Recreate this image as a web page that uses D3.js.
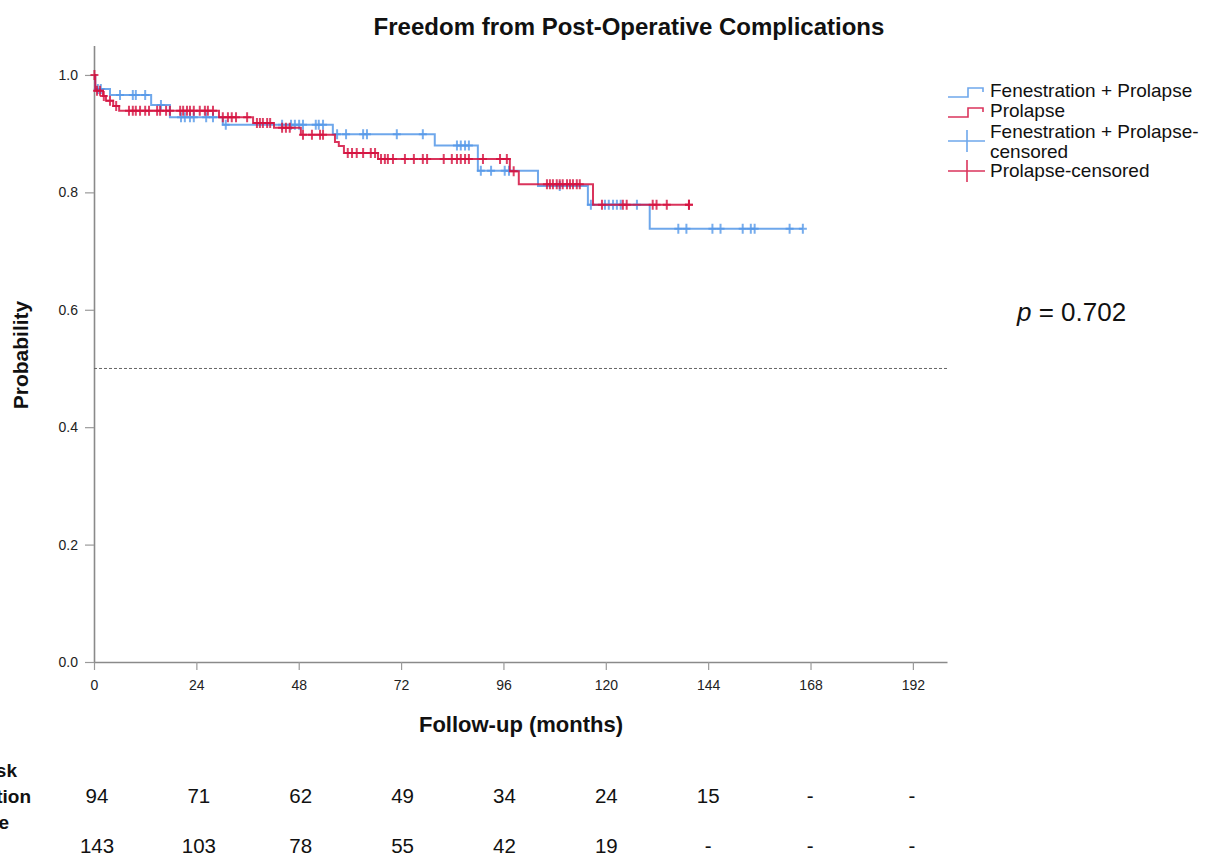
<!DOCTYPE html>
<html>
<head>
<meta charset="utf-8">
<script src="https://cdn.jsdelivr.net/npm/d3@7"></script>
<style>
  body { margin: 0; background: #fff; }
  svg { font-family: "Liberation Sans", Arial, sans-serif; }
</style>
</head>
<body>
<div id="chart"></div>
<script>
const width = 1213;
const height = 858;

// step points [month, survival]
const fenSteps = [[0, 1.0], [0.3, 0.976], [3.75, 0.966], [13.4, 0.949], [17.8, 0.928], [30.2, 0.915],
    [56.0, 0.899], [79.9, 0.880], [90.0, 0.837], [104.1, 0.811], [115.8, 0.779], [130.3, 0.738]];
const fenEnd = 166.2;
const fenCensored = [0.9, 1.6, 6.1, 9.1, 9.8, 12.0, 15.7, 20.4, 21.3, 22.5, 23.4, 26.3, 27.9,
    30.9, 44.1, 46.2, 47.1, 48.1, 49.0, 52.0, 52.7, 53.7, 57.0, 59.1, 63.1, 64.0, 71.0, 77.1,
    85.1, 86.0, 87.0, 87.9, 90.7, 93.1, 96.3, 97.3, 109.2, 116.5, 119.8, 120.7, 121.7, 122.6,
    123.5, 127.3, 137.0, 138.9, 145.0, 146.9, 152.1, 154.0, 154.9, 163.1, 166.2];

const proSteps = [[0, 1.0], [0.3, 0.973], [2.1, 0.964], [2.8, 0.956], [4.5, 0.947], [5.9, 0.939],
    [29.3, 0.928], [37.3, 0.918], [42.2, 0.910], [48.5, 0.898], [56.5, 0.886], [57.4, 0.879],
    [58.6, 0.867], [66.6, 0.857], [97.5, 0.836], [99.6, 0.814], [117.0, 0.779]];
const proEnd = 139.5;
const proCensored = [0.1, 0.7, 1.4, 2.3, 3.75, 5.2, 8.2, 9.1, 9.8, 10.8, 12.0, 12.9, 14.8, 15.5,
    16.9, 17.8, 20.2, 20.9, 21.8, 22.5, 23.4, 24.8, 26.0, 26.7, 27.9, 30.2, 31.4, 32.3, 33.3,
    35.9, 38.2, 38.9, 39.6, 40.6, 41.3, 44.1, 45.0, 45.9, 49.0, 51.1, 53.0, 53.7, 59.5, 60.5,
    61.6, 63.1, 64.9, 65.9, 67.3, 68.2, 68.9, 70.1, 72.9, 75.0, 77.1, 78.1, 82.0, 83.9, 85.1,
    86.0, 87.0, 87.9, 91.2, 95.2, 96.8, 98.4, 106.2, 106.9, 107.6, 108.5, 109.2, 109.9, 110.9,
    111.6, 112.3, 113.2, 113.9, 119.1, 124.0, 124.9, 131.0, 131.9, 134.3, 139.5, 139.5];

const xTicks = [0, 24, 48, 72, 96, 120, 144, 168, 192];
const yTicks = [0, 0.2, 0.4, 0.6, 0.8, 1.0];
const riskFen = ['94', '71', '62', '49', '34', '24', '15', '-', '-'];
const riskPro = ['143', '103', '78', '55', '42', '19', '-', '-', '-'];
const legendLabels = ['Fenestration + Prolapse', 'Prolapse', 'Fenestration + Prolapse-censored', 'Prolapse-censored'];

const blue = '#5598e8';
const red = '#d4103f';

const svg = d3.select('#chart')
    .append('svg')
    .attr('width', width)
    .attr('height', height);

const xScale = d3.scaleLinear().domain([0, 200]).range([94, 947]);
const yScale = d3.scaleLinear().domain([0, 1.05]).range([662, 45.6]);

// axes
const xAxis = d3.axisBottom(xScale).tickValues(xTicks).tickSize(8).tickSizeOuter(0);
const yAxis = d3.axisLeft(yScale).tickValues(yTicks).tickFormat(d3.format('.1f')).tickSize(9).tickSizeOuter(0);

const gx = svg.append('g')
    .attr('transform', `translate(0, ${yScale(0)})`)
    .call(xAxis);
const gy = svg.append('g')
    .attr('transform', `translate(${xScale(0)}, 0)`)
    .call(yAxis);

[gx, gy].forEach(g => {
    g.select('.domain').attr('stroke', '#8a8a8a').attr('stroke-width', 1.6);
    g.selectAll('.tick line').attr('stroke', '#9a9a9a').attr('stroke-width', 1.2);
    g.selectAll('.tick text').attr('fill', '#222').style('font-size', '14px')
        .style('font-family', '"Liberation Sans", Arial, sans-serif');
});
gx.selectAll('.tick text').attr('dy', '1.2em');
gy.selectAll('.tick text').attr('x', -16);

// median reference line
svg.append('line')
    .attr('x1', xScale(0))
    .attr('x2', xScale(200))
    .attr('y1', yScale(0.5))
    .attr('y2', yScale(0.5))
    .attr('stroke', '#666')
    .attr('stroke-width', 1)
    .attr('stroke-dasharray', '3,2');

const line = d3.line()
    .x(d => xScale(d[0]))
    .y(d => yScale(d[1]))
    .curve(d3.curveStepAfter);

function survAt(steps, t) {
    let s = 1;
    steps.forEach(d => { if (d[0] <= t) s = d[1]; });
    return s;
}

function drawGroup(steps, end, censored, color) {
    const pts = steps.concat([[end, steps[steps.length - 1][1]]]);
    svg.append('path')
        .datum(pts)
        .attr('d', line)
        .attr('fill', 'none')
        .attr('stroke', color)
        .attr('stroke-opacity', 0.85)
        .attr('stroke-width', 2);

    svg.append('g')
        .selectAll('path')
        .data(censored)
        .join('path')
        .attr('d', t => {
            const x = xScale(t), y = yScale(survAt(steps, t));
            return `M${x - 4},${y}H${x + 4}M${x},${y - 5}V${y + 5}`;
        })
        .attr('fill', 'none')
        .attr('stroke', color)
        .attr('stroke-opacity', 0.8)
        .attr('stroke-width', 2);
}

drawGroup(fenSteps, fenEnd, fenCensored, blue);
drawGroup(proSteps, proEnd, proCensored, red);

// title and axis labels
svg.append('text')
    .attr('x', 629)
    .attr('y', 35)
    .attr('text-anchor', 'middle')
    .style('font-size', '24px')
    .style('font-weight', 'bold')
    .attr('fill', '#111')
    .text('Freedom from Post-Operative Complications');

svg.append('text')
    .attr('x', 521)
    .attr('y', 732)
    .attr('text-anchor', 'middle')
    .style('font-size', '22px')
    .style('font-weight', 'bold')
    .attr('fill', '#111')
    .text('Follow-up (months)');

svg.append('text')
    .attr('transform', 'rotate(-90)')
    .attr('x', -355)
    .attr('y', 28)
    .attr('text-anchor', 'middle')
    .style('font-size', '21px')
    .style('font-weight', 'bold')
    .attr('fill', '#111')
    .text('Probability');

// legend
const legend = svg.append('g').attr('transform', 'translate(948, 0)');
const legendColors = [blue, red, blue, red];
const legendY = [91, 111, 141, 171];
legendLabels.forEach((lab, i) => {
    const y = legendY[i];
    const c = legendColors[i];
    if (i < 2) {
        legend.append('path')
            .attr('d', `M0,${y + 6}H20V${y - 3}H35V${y + 1}`)
            .attr('fill', 'none')
            .attr('stroke', c)
            .attr('stroke-opacity', 0.85)
            .attr('stroke-width', 1.6);
    } else {
        legend.append('path')
            .attr('d', `M0,${y}H37M19,${y - 11}V${y + 11}`)
            .attr('fill', 'none')
            .attr('stroke', c)
            .attr('stroke-opacity', 0.85)
            .attr('stroke-width', 1.6);
    }
    const t = legend.append('text')
        .attr('x', 42)
        .attr('y', y + 6)
        .style('font-size', '19px')
        .attr('fill', '#111');
    if (i === 2) {
        t.append('tspan').attr('x', 42).attr('y', y - 3).text('Fenestration + Prolapse-');
        t.append('tspan').attr('x', 42).attr('y', y + 17).text('censored');
    } else {
        t.text(lab);
    }
});

// p value
const pText = svg.append('text')
    .attr('x', 1017)
    .attr('y', 321)
    .style('font-size', '26px')
    .attr('fill', '#111');
pText.append('tspan').style('font-style', 'italic').text('p');
pText.append('tspan').text(' = 0.702');

// number at risk table
const tableX = d3.scalePoint().domain(xTicks).range([97, 912]);
const rowLabels = [['At risk', 17, 777], ['Fenestration', 31, 803], ['+ Prolapse', 9, 829]];
rowLabels.forEach(r => {
    svg.append('text')
        .attr('x', r[1])
        .attr('y', r[2])
        .attr('text-anchor', 'end')
        .style('font-size', '19px')
        .style('font-weight', 'bold')
        .attr('fill', '#111')
        .text(r[0]);
});

[[riskFen, 803], [riskPro, 853]].forEach(([row, y]) => {
    svg.append('g')
        .selectAll('text')
        .data(row)
        .join('text')
        .attr('x', (d, i) => tableX(xTicks[i]))
        .attr('y', y)
        .attr('text-anchor', 'middle')
        .style('font-size', '20.5px')
        .attr('fill', '#111')
        .text(d => d);
});
</script>
</body>
</html>
